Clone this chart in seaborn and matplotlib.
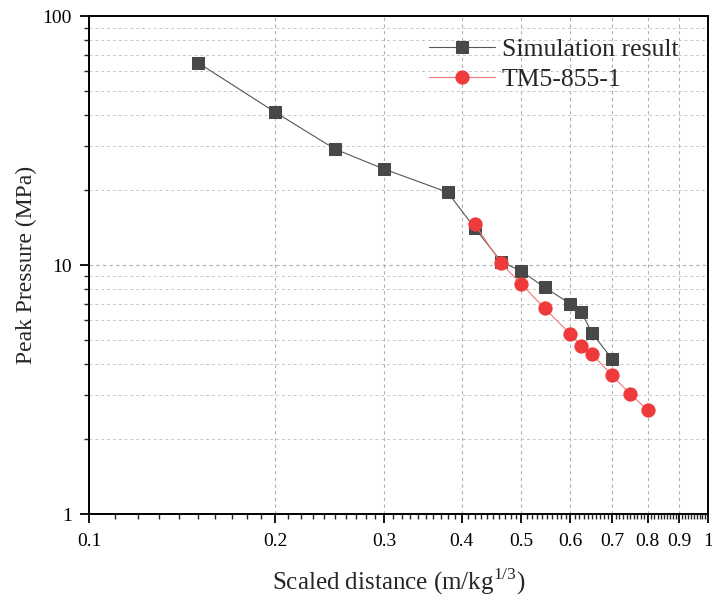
import numpy as np
import pandas as pd
import seaborn as sns
import matplotlib
matplotlib.use("Agg")
import matplotlib.pyplot as plt
from matplotlib.ticker import FixedLocator, NullFormatter, FixedFormatter

# Data
sim_x = [0.15, 0.20, 0.25, 0.30, 0.38, 0.42, 0.464, 0.50, 0.545, 0.60, 0.625, 0.65, 0.70]
sim_y = [65.0, 41.1, 29.2, 24.3, 19.6, 14.1, 10.3, 9.45, 8.13, 6.99, 6.46, 5.33, 4.21]
tm_x = [0.42, 0.463, 0.50, 0.545, 0.60, 0.625, 0.65, 0.70, 0.75, 0.80]
tm_y = [14.6, 10.2, 8.37, 6.70, 5.28, 4.74, 4.39, 3.61, 3.03, 2.61]
x_ticks = [0.1, 0.2, 0.3, 0.4, 0.5, 0.6, 0.7, 0.8, 0.9, 1.0]
x_tick_labels = ["0.1", "0.2", "0.3", "0.4", "0.5", "0.6", "0.7", "0.8", "0.9", "1"]
y_ticks = [1, 10, 100]
y_tick_labels = ["1", "10", "100"]

sns.set_style("ticks")
plt.rcParams['font.family'] = ['Liberation Serif', 'DejaVu Serif']
plt.rcParams['mathtext.fontset'] = 'custom'
plt.rcParams['mathtext.rm'] = 'Liberation Serif'

fig = plt.figure(figsize=(7.12, 5.97), dpi=100)
ax = fig.add_axes([0.125, 0.139, 0.869, 0.834])

sim = pd.DataFrame({"x": sim_x, "y": sim_y})
tm = pd.DataFrame({"x": tm_x, "y": tm_y})

sns.lineplot(data=sim, x="x", y="y", ax=ax, color="#555555", linewidth=0.8,
             marker="s", markersize=8.5, markeredgecolor="#484848",
             markerfacecolor="#484848", label="Simulation result", zorder=3)
sns.lineplot(data=tm, x="x", y="y", ax=ax, color="#f07878", linewidth=0.8,
             marker="o", markersize=9.5, markeredgecolor="#ee3a3a",
             markerfacecolor="#ee3a3a", label="TM5-855-1", zorder=4)

ax.set_xscale("log")
ax.set_yscale("log")
ax.set_xlim(0.1, 1.0)
ax.set_ylim(1, 100)

ax.xaxis.set_major_locator(FixedLocator(x_ticks))
ax.xaxis.set_major_formatter(FixedFormatter(x_tick_labels))
xminor = [round(v, 2) for v in np.arange(0.11, 1.0, 0.01) if round(v * 100) % 10 != 0]
ax.xaxis.set_minor_locator(FixedLocator(xminor))
ax.xaxis.set_minor_formatter(NullFormatter())

ax.yaxis.set_major_locator(FixedLocator(y_ticks))
ax.yaxis.set_major_formatter(FixedFormatter(y_tick_labels))
yminor = [m * d for d in (1, 10) for m in range(2, 10)]
ax.yaxis.set_minor_locator(FixedLocator(yminor))
ax.yaxis.set_minor_formatter(NullFormatter())

ax.grid(which="major", axis="both", color="#b0b0b0", linestyle=(0, (3, 3)), linewidth=0.8)
ax.grid(which="minor", axis="y", color="#c8c8c8", linestyle=(0, (3, 3)), linewidth=0.7)

ax.tick_params(which="major", direction="out", length=6.5, width=1.3, labelsize=14, colors="black")
ax.tick_params(which="minor", direction="out", length=3.5, width=1.0)
ax.tick_params(axis="x", which="major", pad=7)
ax.tick_params(axis="y", which="major", pad=6)
for s in ax.spines.values():
    s.set_linewidth(1.4)
    s.set_color("black")

ax.set_xlabel("Scaled distance (m/kg$^{1/3}$)", fontsize=18, labelpad=12)
ax.set_ylabel("Peak Pressure (MPa)", fontsize=17, labelpad=4)

leg = ax.legend(loc="upper right", bbox_to_anchor=(0.99, 1.003), frameon=False,
                fontsize=18.5, handlelength=2.6, handletextpad=0.25, labelspacing=0.3)

fig.savefig("out.png", dpi=100)
